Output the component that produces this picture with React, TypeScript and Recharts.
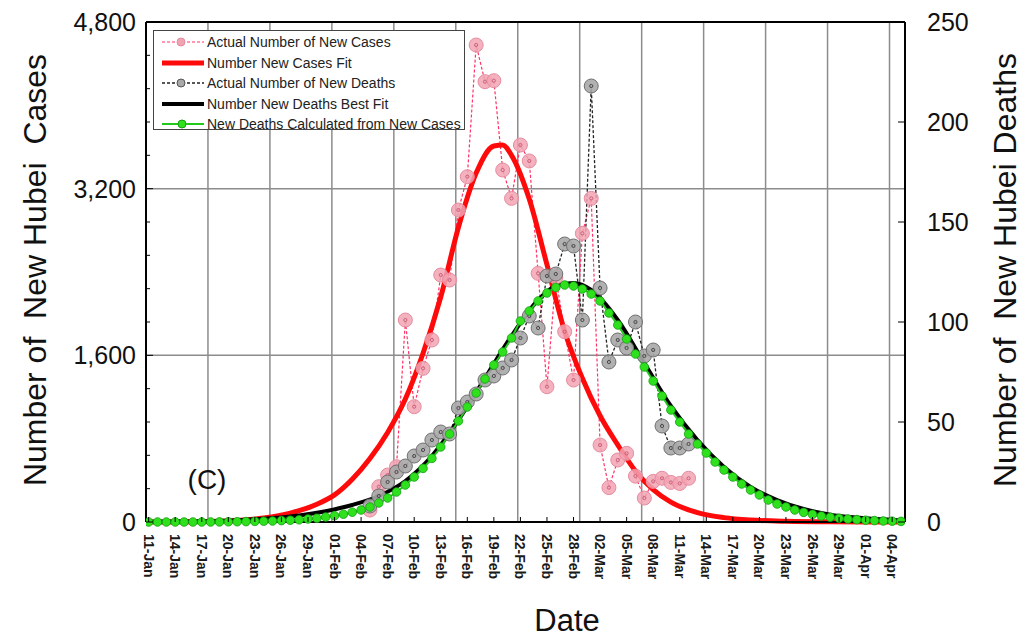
import React from 'react';
import { ComposedChart, Line, XAxis, YAxis, ReferenceLine } from 'recharts';

// day 0 = 11-Jan (2020). Tick labels every 3 days.
const dateLabels = [
  '11-Jan', '14-Jan', '17-Jan', '20-Jan', '23-Jan', '26-Jan', '29-Jan',
  '01-Feb', '04-Feb', '07-Feb', '10-Feb', '13-Feb', '16-Feb', '19-Feb',
  '22-Feb', '25-Feb', '28-Feb', '02-Mar', '05-Mar', '08-Mar', '11-Mar',
  '14-Mar', '17-Mar', '20-Mar', '23-Mar', '26-Mar', '29-Mar', '01-Apr', '04-Apr',
];
const tickDays = dateLabels.map((_, i) => i * 3);
const gridDays = [6.7, 13.7, 20.7, 27.7, 34.7, 41.7, 48.7, 55.7, 62.7, 69.7, 76.7, 83.7];

const caseTicks = [0, 320, 640, 960, 1280, 1600, 1920, 2240, 2560, 2880, 3200, 3520, 3840, 4160, 4480, 4800];
const deathTicks = [0, 50, 100, 150, 200, 250];

// reported series start on 05-Feb (day 25)
const firstReportDay = 25;
const actualCases = [
  115, 339, 451, 531, 1939, 1107, 1475, 1747, 2371, 2323, 2995, 3315, 4579, 4227,
  4237, 3379, 3107, 3619, 3466, 2387, 1299, 2350, 1827, 1363, 2771, 3107, 739, 330,
  595, 659, 440, 230, 390, 420, 380, 370, 420,
];
const actualDeaths = [
  8, 13, 20, 25, 28, 33, 36, 41, 45, 44, 57, 60, 64, 71, 73, 77, 81, 92, 103, 97,
  123, 124, 139, 138, 101, 218, 117, 80, 91, 87, 100, 83, 86, 48, 37, 37, 39,
];

const casesFitDays = [0, 5, 10, 13, 16, 19, 21, 23, 25, 27, 29, 31, 33, 35, 37, 39, 40, 41, 43, 45, 47, 49, 51, 53, 55, 57, 59, 62, 65, 68, 72, 77, 85];
const casesFit = [0, 3, 15, 38, 85, 170, 260, 410, 610, 860, 1180, 1620, 2160, 2830, 3350, 3610, 3620, 3520, 3100, 2470, 1830, 1380, 1020, 740, 490, 310, 190, 90, 42, 19, 7, 2, 0];

const deathsFitDays = [0, 4, 8, 11, 14, 17, 20, 23, 26, 29, 32, 35, 38, 41, 44, 46, 48, 50, 53, 56, 59, 62, 65, 68, 71, 74, 77, 80, 85];
const deathsFit = [0.1, 0.2, 0.5, 1.1, 2, 3.3, 5.4, 8.5, 13, 20.5, 33, 51, 72, 93, 111, 118, 119.5, 116, 101, 79.5, 58, 41, 27.5, 17.5, 11, 6.5, 3.7, 2.2, 0.8];

// one value per day from 11-Jan
const deathsFromCases = [
  0, 0, 0, 0, 0, 0, 0, 0, 0.05, 0.1, 0.15, 0.2, 0.3, 0.4, 0.5, 0.7, 0.9, 1.1, 1.5, 1.9,
  2.5, 3.1, 3.9, 4.9, 6, 7.5, 9.5, 12, 15, 18.5, 22.5, 26.8, 31.8, 37.5, 44, 50.5, 57.5,
  64.5, 71.5, 78.5, 85, 92, 100.5, 105.5, 110.5, 114.5, 117.3, 118.5, 118, 116.5, 114,
  110.5, 104.5, 98.5, 91.5, 84, 77.5, 70.5, 63, 56, 50, 44, 39, 34.5, 30, 26, 22.5, 19,
  16, 13.5, 11, 9, 7.5, 6, 4.8, 3.8, 3, 2.4, 1.9, 1.5, 1.2, 0.9, 0.7, 0.5, 0.4, 0.3,
];

const casesData = actualCases.map((v, i) => ({ day: firstReportDay + i, v }));
const deathsData = actualDeaths.map((v, i) => ({ day: firstReportDay + i, v }));
const casesFitData = casesFitDays.map((d, i) => ({ day: d, v: casesFit[i] }));
const deathsFitData = deathsFitDays.map((d, i) => ({ day: d, v: deathsFit[i] }));
const calcData = deathsFromCases.map((v, i) => ({ day: i, v }));

const FONT = '"Liberation Sans", Arial, sans-serif';

function PinkDot({ cx, cy }: any) {
  if (cx == null || cy == null) return null;
  return (
    <g>
      <circle cx={cx} cy={cy} r={7} fill="#f2a3b3" fillOpacity={0.85} stroke="#e68ca0" strokeWidth={1} />
      <circle cx={cx} cy={cy} r={1.6} fill="none" stroke="#c0506e" strokeWidth={0.8} />
    </g>
  );
}

function GreyDot({ cx, cy }: any) {
  if (cx == null || cy == null) return null;
  return (
    <g>
      <circle cx={cx} cy={cy} r={7} fill="#a9a9a9" fillOpacity={0.9} stroke="#707070" strokeWidth={1} />
      <circle cx={cx} cy={cy} r={1.6} fill="none" stroke="#333" strokeWidth={0.8} />
    </g>
  );
}

function GreenDot({ cx, cy }: any) {
  if (cx == null || cy == null) return null;
  return <circle cx={cx} cy={cy} r={4.3} fill="#2fe01c" stroke="#12a010" strokeWidth={0.8} />;
}

function DateTick({ x, y, payload }: any) {
  const label = dateLabels[tickDays.indexOf(payload.value)] ?? '';
  const ty = y + 12;
  return (
    <g>
      <line x1={x} y1={y} x2={x} y2={y - 5} stroke="#000" strokeWidth={1} />
      <text
        x={x}
        y={ty}
        transform={`rotate(90, ${x}, ${ty})`}
        textAnchor="start"
        dominantBaseline="central"
        fontSize={14}
        fontWeight="bold"
        fontFamily={FONT}
        fill="#1a1a1a"
      >
        {label}
      </text>
    </g>
  );
}

function CasesTick({ x, y, payload }: any) {
  const major = payload.value % 1600 === 0;
  return (
    <g>
      <line x1={x} y1={y} x2={x + (major ? 7 : 4)} y2={y} stroke="#000" strokeWidth={1} />
      {major && (
        <text x={x - 10} y={y} textAnchor="end" dominantBaseline="central" fontSize={25} fontFamily={FONT} fill="#111">
          {payload.value.toLocaleString('en-US')}
        </text>
      )}
    </g>
  );
}

function DeathsTick({ x, y, payload }: any) {
  return (
    <g>
      <line x1={x} y1={y} x2={x - 7} y2={y} stroke="#000" strokeWidth={1} />
      <text x={x + 22} y={y} textAnchor="start" dominantBaseline="central" fontSize={25} fontFamily={FONT} fill="#111">
        {payload.value}
      </text>
    </g>
  );
}

const legendItems = [
  { label: 'Actual Number of New Cases', kind: 'pink' },
  { label: 'Number New Cases Fit', kind: 'red' },
  { label: 'Actual Number of New Deaths', kind: 'grey' },
  { label: 'Number New Deaths Best Fit', kind: 'black' },
  { label: 'New Deaths Calculated from New Cases', kind: 'green' },
];

function LegendIcon({ kind }: { kind: string }) {
  return (
    <svg width={46} height={12} style={{ display: 'block' }}>
      {kind === 'pink' && (
        <>
          <line x1={2} y1={6} x2={44} y2={6} stroke="#ff3366" strokeWidth={1.2} strokeDasharray="3 2" />
          <circle cx={21} cy={6} r={4} fill="#f2a3b3" stroke="#e68ca0" />
        </>
      )}
      {kind === 'red' && <line x1={2} y1={6} x2={44} y2={6} stroke="#ff0a0a" strokeWidth={5} />}
      {kind === 'grey' && (
        <>
          <line x1={2} y1={6} x2={44} y2={6} stroke="#222" strokeWidth={1.3} strokeDasharray="3 2" />
          <circle cx={21} cy={6} r={4} fill="#a9a9a9" stroke="#555" />
        </>
      )}
      {kind === 'black' && <line x1={2} y1={6} x2={44} y2={6} stroke="#000" strokeWidth={4} />}
      {kind === 'green' && (
        <>
          <line x1={2} y1={6} x2={44} y2={6} stroke="#22c81a" strokeWidth={2} />
          <circle cx={22} cy={6} r={4} fill="#2fe01c" stroke="#12a010" />
        </>
      )}
    </svg>
  );
}

export default function App() {
  return (
    <div style={{ position: 'relative', width: 1024, height: 631, fontFamily: FONT, background: '#fff' }}>
      <ComposedChart
        width={1024}
        height={631}
        margin={{ top: 14, right: 67, bottom: 47, left: 78 }}
      >
        <XAxis
          dataKey="day"
          type="number"
          domain={[-0.3, 85.45]}
          ticks={tickDays}
          interval={0}
          allowDataOverflow
          height={70}
          tickSize={0}
          tickMargin={0}
          tick={<DateTick />}
          axisLine={{ stroke: '#000', strokeWidth: 2 }}
        />
        <YAxis
          yAxisId="cases"
          orientation="left"
          domain={[0, 4800]}
          ticks={caseTicks}
          interval={0}
          width={60}
          tickSize={0}
          tickMargin={0}
          tick={<CasesTick />}
          axisLine={{ stroke: '#000', strokeWidth: 2 }}
        />
        <YAxis
          yAxisId="deaths"
          orientation="right"
          domain={[0, 250]}
          ticks={deathTicks}
          interval={0}
          width={60}
          tickSize={0}
          tickMargin={0}
          tick={<DeathsTick />}
          axisLine={{ stroke: '#000', strokeWidth: 2 }}
        />
        {gridDays.map((d) => (
          <ReferenceLine key={`g${d}`} yAxisId="cases" x={d} stroke="#8c8c8c" strokeWidth={1.5} />
        ))}
        <ReferenceLine yAxisId="cases" y={1600} stroke="#8c8c8c" strokeWidth={1.5} />
        <ReferenceLine yAxisId="cases" y={3200} stroke="#8c8c8c" strokeWidth={1.5} />
        <ReferenceLine yAxisId="cases" y={4800} stroke="#000" strokeWidth={2} />

        <Line
          yAxisId="cases"
          data={casesData}
          dataKey="v"
          type="linear"
          stroke="#ff3366"
          strokeWidth={1.2}
          strokeDasharray="3 2"
          dot={(p: any) => <PinkDot key={`p${p.index}`} {...p} />}
          activeDot={false}
          isAnimationActive={false}
        />
        <Line
          yAxisId="deaths"
          data={deathsData}
          dataKey="v"
          type="linear"
          stroke="#222"
          strokeWidth={1.3}
          strokeDasharray="3 2"
          dot={(p: any) => <GreyDot key={`d${p.index}`} {...p} />}
          activeDot={false}
          isAnimationActive={false}
        />
        <Line
          yAxisId="cases"
          data={casesFitData}
          dataKey="v"
          type="monotone"
          stroke="#ff0a0a"
          strokeWidth={5}
          dot={false}
          activeDot={false}
          isAnimationActive={false}
        />
        <Line
          yAxisId="deaths"
          data={deathsFitData}
          dataKey="v"
          type="monotone"
          stroke="#000"
          strokeWidth={4}
          dot={false}
          activeDot={false}
          isAnimationActive={false}
        />
        <Line
          yAxisId="deaths"
          data={calcData}
          dataKey="v"
          type="monotone"
          stroke="#22c81a"
          strokeWidth={2}
          dot={(p: any) => <GreenDot key={`c${p.index}`} {...p} />}
          activeDot={false}
          isAnimationActive={false}
        />
      </ComposedChart>

      {/* legend box inside the plot, top-left */}
      <div
        style={{
          position: 'absolute',
          left: 145,
          top: 22,
          width: 312,
          height: 100,
          boxSizing: 'border-box',
          border: '1px solid #444',
          background: '#fff',
          padding: '1px 0 0 6px',
        }}
      >
        {legendItems.map((it) => (
          <div key={it.label} style={{ display: 'flex', alignItems: 'center', height: 20.5 }}>
            <LegendIcon kind={it.kind} />
            <span style={{ fontSize: 14, color: '#222', marginLeft: 1, whiteSpace: 'pre' }}>{it.label}</span>
          </div>
        ))}
      </div>

      <div
        style={{
          position: 'absolute',
          left: 27,
          top: 262,
          transform: 'translate(-50%, -50%) rotate(-90deg)',
          fontSize: 32,
          lineHeight: 1,
          whiteSpace: 'pre',
          color: '#111',
        }}
      >
        {'Number of  New Hubei  Cases'}
      </div>
      <div
        style={{
          position: 'absolute',
          left: 997,
          top: 262,
          transform: 'translate(-50%, -50%) rotate(-90deg)',
          fontSize: 32,
          lineHeight: 1,
          whiteSpace: 'pre',
          color: '#111',
        }}
      >
        {'Number of  New Hubei Deaths'}
      </div>
      <div
        style={{
          position: 'absolute',
          left: 559,
          top: 612,
          transform: 'translate(-50%, -50%)',
          fontSize: 31,
          lineHeight: 1,
          color: '#111',
        }}
      >
        Date
      </div>
      <div
        style={{
          position: 'absolute',
          left: 199,
          top: 472,
          transform: 'translate(-50%, -50%)',
          fontSize: 28,
          lineHeight: 1,
          color: '#111',
        }}
      >
        (C)
      </div>
    </div>
  );
}
